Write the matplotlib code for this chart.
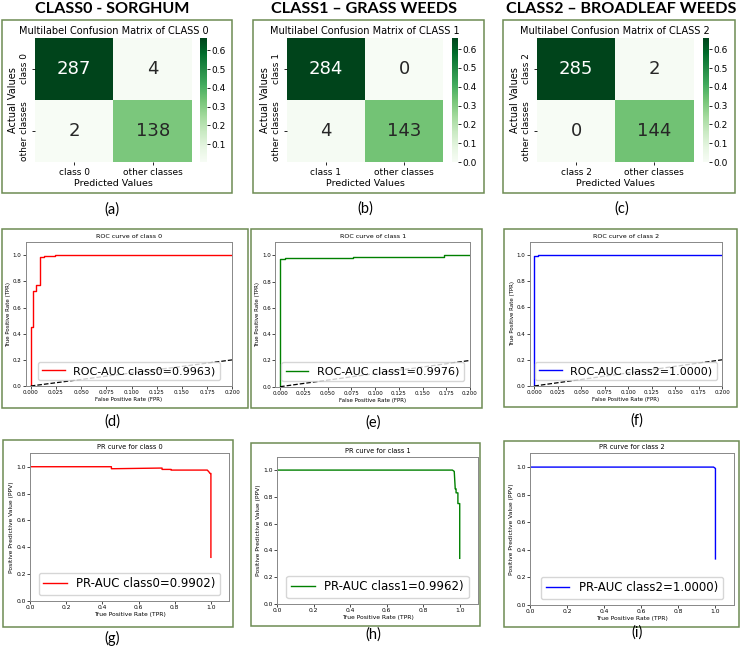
import matplotlib
matplotlib.use('Agg')
import matplotlib.pyplot as plt
from matplotlib.patches import Rectangle
from matplotlib.ticker import MultipleLocator
import numpy as np

# ---- data ----
headings = ['CLASS0 - SORGHUM', 'CLASS1 – GRASS WEEDS', 'CLASS2 – BROADLEAF WEEDS']
class_names = ['class 0', 'class 1', 'class 2']
panel_tags = ['(a)', '(b)', '(c)', '(d)', '(e)', '(f)', '(g)', '(h)', '(i)']
curve_colors = ['red', 'green', 'blue']

cm0 = [[287, 4], [2, 138]]
cm1 = [[284, 0], [4, 143]]
cm2 = [[285, 2], [0, 144]]

roc_auc = ['0.9963', '0.9976', '1.0000']
pr_auc = ['0.9902', '0.9962', '1.0000']

fpr0 = [0, 0, 0.0025, 0.0025, 0.005, 0.005, 0.0095, 0.0095, 0.013, 0.013, 0.024, 0.024, 1.0]
tpr0 = [0, 0.45, 0.45, 0.73, 0.73, 0.775, 0.775, 0.985, 0.985, 0.993, 0.993, 1.0, 1.0]
fpr1 = [0, 0, 0.002, 0.002, 0.005, 0.005, 0.077, 0.077, 0.103, 0.103, 0.173, 0.173, 1.0]
tpr1 = [0, 0.97, 0.97, 0.975, 0.975, 0.98, 0.98, 0.985, 0.985, 0.99, 0.99, 1.0, 1.0]
fpr2 = [0, 0, 0.004, 0.004, 1.0]
tpr2 = [0, 0.99, 0.99, 1.0, 1.0]

rec0 = [0, 0.45, 0.45, 0.72, 0.73, 0.73, 0.78, 0.78, 0.98, 0.99, 0.995, 1.0, 1.0]
prec0 = [1.0, 1.0, 0.985, 0.99, 0.99, 0.98, 0.98, 0.975, 0.975, 0.96, 0.95, 0.95, 0.325]
rec1 = [0, 0.96, 0.97, 0.975, 0.975, 0.98, 0.98, 0.99, 0.99, 1.0, 1.0]
prec1 = [1.0, 1.0, 0.99, 0.87, 0.86, 0.86, 0.83, 0.83, 0.75, 0.75, 0.341]
rec2 = [0, 0.99, 1.0, 1.0]
prec2 = [1.0, 1.0, 0.99, 0.334]

cms = [cm0, cm1, cm2]
rocs = [(fpr0, tpr0), (fpr1, tpr1), (fpr2, tpr2)]
prs = [(rec0, prec0), (rec1, prec1), (rec2, prec2)]

# ---- layout in pixels (left, top, right, bottom) ----
W, H = 740, 652
fig = plt.figure(figsize=(W / 100, H / 100), dpi=100)


def px_axes(l, t, r, b):
    return fig.add_axes([l / W, 1 - b / H, (r - l) / W, (b - t) / H])


def px_box(l, t, r, b, color='#6d8b54'):
    fig.add_artist(Rectangle((l / W, 1 - b / H), (r - l) / W, (b - t) / H,
                             transform=fig.transFigure, fill=False,
                             edgecolor=color, linewidth=1.1))


def px_text(x, y, s, **kw):
    fig.text(x / W, 1 - y / H, s, ha='center', va='center', **kw)


boxes_cm = [(2, 20, 232, 193), (253, 20, 484, 193), (503, 20, 735, 193)]
heat_ax = [(35, 38, 192, 162), (287, 38, 443, 162), (537, 38, 693, 162)]
cbar_ax = [(200, 38, 207, 162), (452, 38, 458, 162), (703, 38, 709, 162)]

boxes_roc = [(2, 229, 248, 408), (251, 229, 482, 408), (504, 229, 737, 407)]
roc_ax = [(25.7, 242.3, 232.3, 386), (275.3, 242.3, 470, 386.7), (529.6, 241.7, 722.3, 386)]

boxes_pr = [(3, 440, 233, 627), (251, 443, 480, 626), (504, 441, 739, 627)]
pr_ax = [(30, 453.3, 229, 601), (277, 456.7, 478, 604), (530, 453.3, 734, 605)]

heading_x = [112, 364, 621]
tag_pos = [(112, 210), (365, 209), (622, 209),
           (112, 422), (373, 423), (637, 421),
           (112, 638), (373, 635), (637, 633)]

cal = ['Lato', 'DejaVu Sans']

for i in range(3):
    # heading
    px_text(heading_x[i], 9, headings[i], fontsize=11.6, fontweight='bold', family=cal)

    # --- confusion matrix ---
    px_box(*boxes_cm[i])
    cm = np.array(cms[i])
    norm = cm / cm.sum()
    ax = px_axes(*heat_ax[i])
    im = ax.imshow(norm, cmap='Greens', vmin=norm.min(), vmax=norm.max(), aspect='auto')
    for r in range(2):
        for c in range(2):
            col = 'white' if norm[r, c] > 0.7 * norm.max() else '#262626'
            ax.text(c, r, str(cm[r, c]), ha='center', va='center', fontsize=13, color=col)
    labels = [class_names[i], 'other classes']
    ax.set_xticks([0, 1])
    ax.set_xticklabels(labels, fontsize=6.5)
    ax.set_yticks([0, 1])
    ax.set_yticklabels(labels, fontsize=6.5, rotation=90, va='center')
    ax.tick_params(length=2, width=0.6, pad=2)
    for s in ax.spines.values():
        s.set_visible(False)
    ax.set_xlabel('Predicted Values', fontsize=6.8, labelpad=2)
    ax.set_ylabel('Actual Values', fontsize=7, labelpad=2)
    ax.set_title('Multilabel Confusion Matrix of CLASS %d' % i, fontsize=7, pad=3)
    cax = px_axes(*cbar_ax[i])
    cb = fig.colorbar(im, cax=cax)
    cb.outline.set_visible(False)
    cax.yaxis.set_major_locator(MultipleLocator(0.1))
    cax.tick_params(labelsize=6.5, length=2, width=0.6, pad=1.5)

    # --- ROC ---
    px_box(*boxes_roc[i])
    ax = px_axes(*roc_ax[i])
    fpr, tpr = rocs[i]
    ax.plot(fpr, tpr, color=curve_colors[i], lw=1.0,
            label='ROC-AUC class%d=%s)' % (i, roc_auc[i]))
    ax.plot([0, 1], [0, 1], 'k--', lw=0.9)
    ax.set_xlim(-0.005, 0.2)
    ax.set_ylim(0, 1.1)
    ax.set_xticks(np.arange(0, 0.2001, 0.025))
    ax.set_yticks(np.arange(0, 1.01, 0.2))
    ax.tick_params(labelsize=4, length=2, width=0.5, pad=1)
    for s in ax.spines.values():
        s.set_color('#888888')
        s.set_linewidth(0.7)
    ax.set_title('ROC curve of class %d' % i, fontsize=4.6, pad=3)
    ax.set_xlabel('False Positive Rate (FPR)', fontsize=4, labelpad=1.5)
    ax.set_ylabel('True Positive Rate (TPR)', fontsize=4, labelpad=1.5)
    ax.legend(loc='lower center', fontsize=8, handlelength=2)

    # --- PR ---
    px_box(*boxes_pr[i])
    ax = px_axes(*pr_ax[i])
    rec, prec = prs[i]
    ax.plot(rec, prec, color=curve_colors[i], lw=1.0,
            label='PR-AUC class%d=%s)' % (i, pr_auc[i]))
    ax.set_xlim(0, 1.1)
    ax.set_ylim(0, 1.1)
    ax.set_xticks(np.arange(0, 1.01, 0.2))
    ax.set_yticks(np.arange(0, 1.01, 0.2))
    ax.tick_params(labelsize=4.3, length=2, width=0.5, pad=1)
    for s in ax.spines.values():
        s.set_color('#888888')
        s.set_linewidth(0.7)
    ax.set_title('PR curve for class %d' % i, fontsize=4.8, pad=3)
    ax.set_xlabel('True Positive Rate (TPR)', fontsize=4.3, labelpad=1.5)
    ax.set_ylabel('Positive Predictive Value (PPV)', fontsize=4.3, labelpad=1.5)
    ax.legend(loc='lower center', fontsize=8.5, handlelength=2)

for (x, y), tag in zip(tag_pos, panel_tags):
    px_text(x, y, tag, fontsize=10.5, family=cal)

fig.savefig('out.png', dpi=100)
